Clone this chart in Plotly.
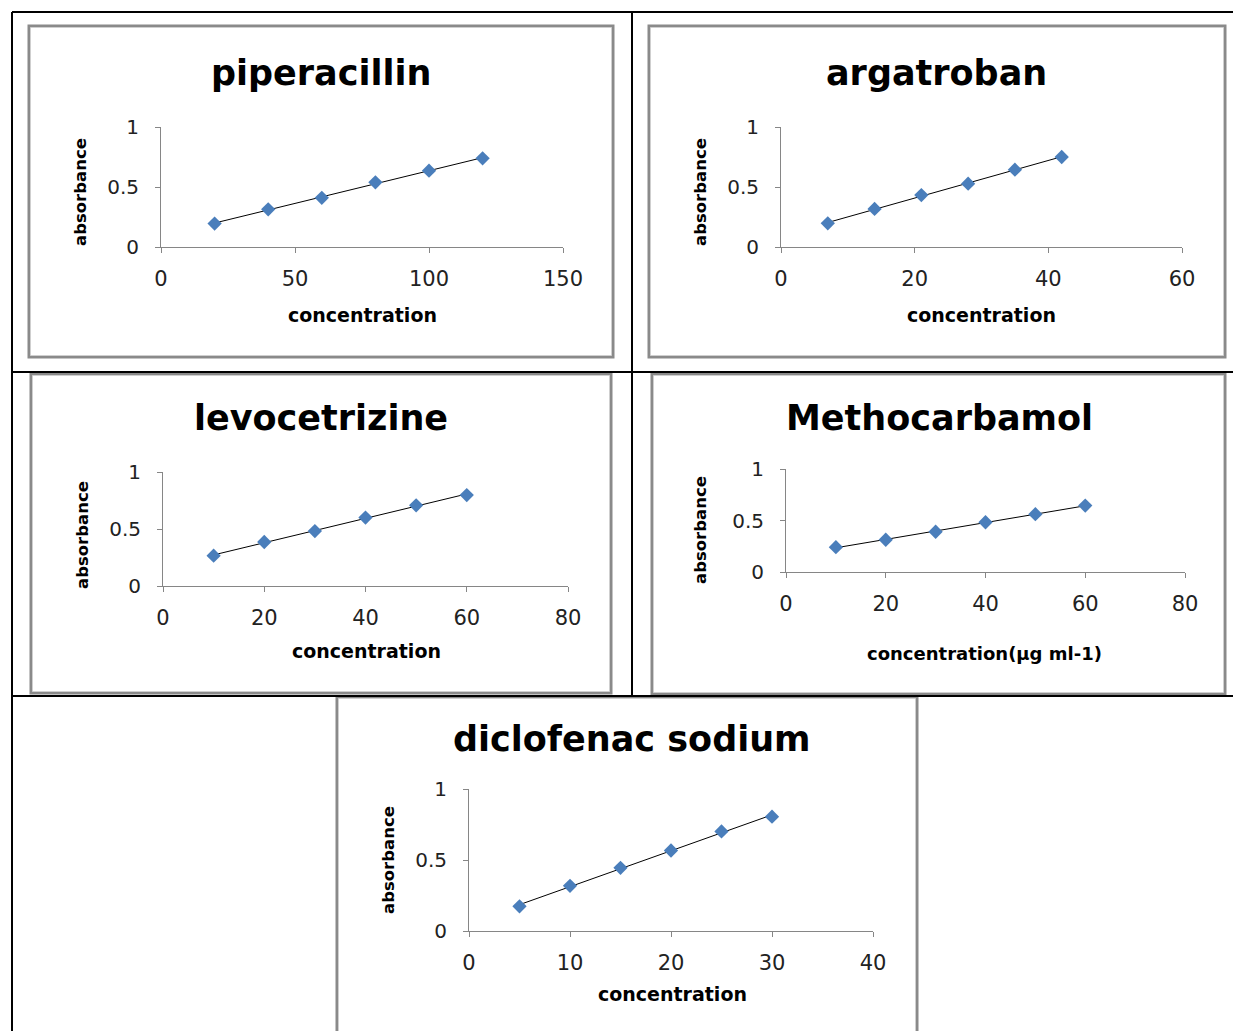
import numpy as np
import plotly.graph_objects as go

W, H = 1233, 1031

# ---- data ----
titles = ["piperacillin", "argatroban", "levocetrizine", "Methocarbamol", "diclofenac sodium"]
x_labels = ["concentration", "concentration", "concentration", "concentration(µg ml-1)", "concentration"]
y_label = "absorbance"

pip_conc = [20, 40, 60, 80, 100, 120]
pip_abs = [0.195, 0.314, 0.41, 0.539, 0.636, 0.739]

arg_conc = [7, 14, 21, 28, 35, 42]
arg_abs = [0.197, 0.317, 0.433, 0.528, 0.644, 0.75]

levo_conc = [10, 20, 30, 40, 50, 60]
levo_abs = [0.266, 0.386, 0.482, 0.60, 0.708, 0.798]

meth_conc = [10, 20, 30, 40, 50, 60]
meth_abs = [0.241, 0.313, 0.391, 0.483, 0.561, 0.645]

diclo_conc = [5, 10, 15, 20, 25, 30]
diclo_abs = [0.174, 0.318, 0.445, 0.567, 0.701, 0.805]

x_max = [150, 60, 80, 80, 40]
x_dtick = [50, 20, 20, 20, 10]
y_ticks = [0, 0.5, 1]
y_tick_text = ["0", "0.5", "1"]

series = [(pip_conc, pip_abs), (arg_conc, arg_abs), (levo_conc, levo_abs),
          (meth_conc, meth_abs), (diclo_conc, diclo_abs)]

# ---- layout geometry (pixels) ----
plot_boxes = [  # x0, x1, ytop, ybottom
    (161, 563, 127, 247),
    (781, 1182, 127, 247),
    (163, 568, 472, 586),
    (786, 1185, 469, 572),
    (469, 873, 789, 931),
]
title_pos = [(321, 73), (936, 73), (321, 418), (939, 418), (632, 739)]
xlab_pos = [(362, 315), (981, 315), (366, 651), (984, 653), (672, 994)]
ylab_pos = [(80, 192), (700, 192), (82, 535), (700, 530), (388, 860)]
xlab_size = [19, 19, 19, 18, 19]
chart_frames = [
    (29, 26, 613, 357),
    (649, 26, 1225, 357),
    (31, 374, 611, 693),
    (652, 374, 1225, 694),
    (337, 697, 917, 1040),
]

def px(x):
    return x / W

def py(y):
    return 1 - y / H

FONT = "DejaVu Sans"
fig = go.Figure()
layout = {}
annotations = []
shapes = []

for i, ((xs, ys), (x0, x1, yt, yb)) in enumerate(zip(series, plot_boxes)):
    n = "" if i == 0 else str(i + 1)
    xa, ya = "x" + n, "y" + n
    slope, icpt = np.polyfit(xs, ys, 1)
    tx = [min(xs), max(xs)]
    ty = [slope * v + icpt for v in tx]
    fig.add_trace(go.Scatter(x=tx, y=ty, mode="lines", line=dict(color="black", width=1),
                             xaxis=xa, yaxis=ya, showlegend=False, hoverinfo="skip"))
    fig.add_trace(go.Scatter(x=xs, y=ys, mode="markers",
                             marker=dict(symbol="diamond", size=11, color="#4a7ebb"),
                             xaxis=xa, yaxis=ya, showlegend=False))
    common = dict(showgrid=False, zeroline=False, showline=True, linecolor="#868686", linewidth=1,
                  ticks="outside", ticklen=5, tickcolor="#868686", automargin=False)
    layout["xaxis" + n] = dict(domain=[px(x0), px(x1)], range=[0, x_max[i]], dtick=x_dtick[i],
                               tick0=0, anchor=ya, ticklabelstandoff=8,
                               tickfont=dict(family=FONT, size=21, color="#222"), **common)
    layout["yaxis" + n] = dict(domain=[py(yb), py(yt)], range=[0, 1], tickvals=y_ticks,
                               ticktext=y_tick_text, anchor=xa, ticklabelstandoff=12,
                               tickfont=dict(family=FONT, size=20, color="#222"), **common)
    tx_, ty_ = title_pos[i]
    annotations.append(dict(text="<b>%s</b>" % titles[i], x=px(tx_), y=py(ty_), xref="paper", yref="paper",
                            showarrow=False, font=dict(family=FONT, size=35, color="black"),
                            xanchor="center", yanchor="middle"))
    lx, ly = xlab_pos[i]
    annotations.append(dict(text="<b>%s</b>" % x_labels[i], x=px(lx), y=py(ly), xref="paper", yref="paper",
                            showarrow=False, font=dict(family=FONT, size=xlab_size[i], color="black"),
                            xanchor="center", yanchor="middle"))
    ax_, ay_ = ylab_pos[i]
    annotations.append(dict(text="<b>%s</b>" % y_label, x=px(ax_), y=py(ay_), xref="paper", yref="paper",
                            showarrow=False, textangle=-90, font=dict(family=FONT, size=16.5, color="black"),
                            xanchor="center", yanchor="middle"))

# chart frames (gray)
for (a, b, c, d) in chart_frames:
    shapes.append(dict(type="rect", xref="paper", yref="paper", x0=px(a), x1=px(c), y0=py(d), y1=py(b),
                       line=dict(color="#8a8a8a", width=3), layer="below"))
    shapes.append(dict(type="rect", xref="paper", yref="paper", x0=px(a + 1.5), x1=px(c - 1.5),
                       y0=py(d - 1.5), y1=py(b + 1.5),
                       line=dict(color="#cfcfcf", width=1), layer="below"))

# table lines (black)
def hline(y, x0, x1):
    shapes.append(dict(type="line", xref="paper", yref="paper", x0=px(x0), x1=px(x1), y0=py(y), y1=py(y),
                       line=dict(color="black", width=2)))

def vline(x, y0, y1):
    shapes.append(dict(type="line", xref="paper", yref="paper", x0=px(x), x1=px(x), y0=py(y0), y1=py(y1),
                       line=dict(color="black", width=2)))

hline(12, 12, 1240)
hline(372, 12, 1240)
hline(696, 12, 1240)
vline(12, 12, 1040)
vline(632, 12, 696)

fig.update_layout(width=W, height=H, autosize=False, margin=dict(l=0, r=0, t=0, b=0, pad=0),
                  paper_bgcolor="white", plot_bgcolor="rgba(0,0,0,0)",
                  annotations=annotations, shapes=shapes, **layout)

fig.write_html("out.html", config={"displayModeBar": False},
               post_script="document.body.style.margin='0px';document.body.style.padding='0px';")
